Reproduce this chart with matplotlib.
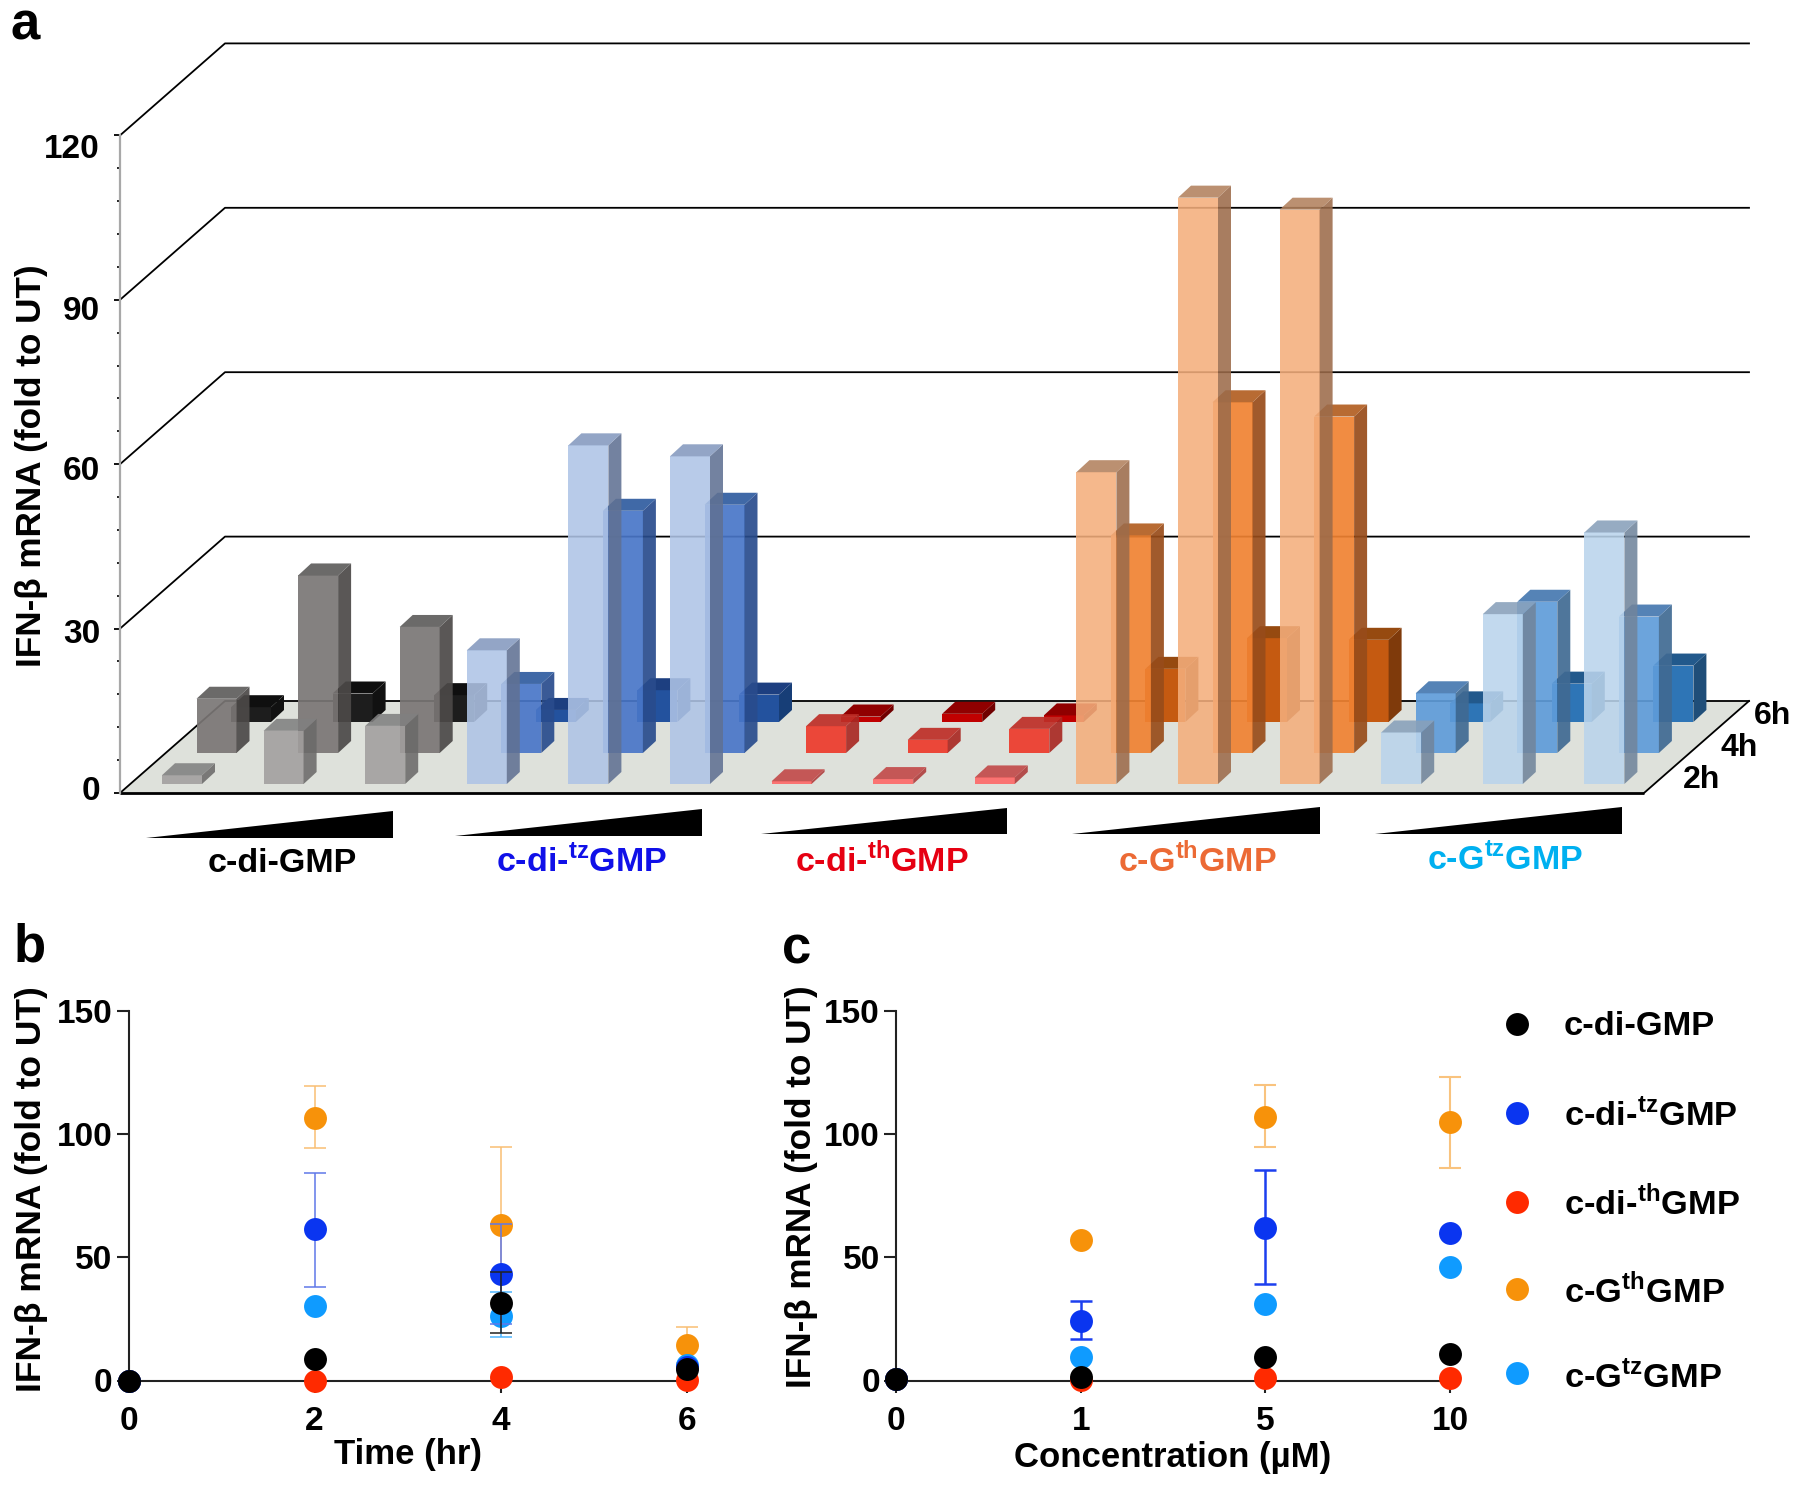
import matplotlib
matplotlib.use("Agg")
import matplotlib.pyplot as plt
import numpy as np
from matplotlib.colors import to_rgb
from matplotlib.lines import Line2D
from matplotlib.patches import Polygon
from matplotlib.ticker import FixedLocator
from matplotlib.transforms import Affine2D

plt.rcParams['font.family'] = ['Liberation Sans', 'DejaVu Sans']
plt.rcParams['font.weight'] = 'bold'
plt.rcParams['mathtext.fontset'] = 'custom'
plt.rcParams['mathtext.rm'] = 'Liberation Sans:bold'
plt.rcParams['mathtext.bf'] = 'Liberation Sans:bold'

# panel a, one value per bar: 5 compounds x 3 doses
hours = ["2h", "4h", "6h"]
bars_2h = [1.6, 9.7, 10.6, 24.4, 61.8, 59.8, 0.5, 0.9, 1.2, 56.9, 107, 104.8, 9.4, 31, 45.9]
bars_4h = [9.9, 32.4, 23, 12.6, 44.2, 45.3, 4.9, 2.4, 4.4, 39.7, 64, 61.4, 10.9, 27.6, 24.9]
bars_6h = [2.7, 5.2, 4.9, 2.2, 5.8, 5, 1, 1.5, 1.2, 9.7, 15.3, 15, 3.4, 7, 10.3]

names = ["c-di-GMP", "c-di-$^{\\mathbf{tz}}$GMP", "c-di-$^{\\mathbf{th}}$GMP",
         "c-G$^{\\mathbf{th}}$GMP", "c-G$^{\\mathbf{tz}}$GMP"]
label_colors = ["#000000", "#1010E8", "#E60012", "#EC6A35", "#00B0F0"]

# panel b, time course
time_x = [0, 2, 4, 6]
b_black = [0, 8.8, 31.5, 4.5]
b_black_lo = [np.nan, np.nan, 19.4, np.nan]
b_black_hi = [np.nan, np.nan, 44.2, np.nan]
b_blue = [0, 61.3, 43.2, 5.5]
b_blue_lo = [np.nan, 38.1, 22.9, np.nan]
b_blue_hi = [np.nan, 84.4, 63.5, np.nan]
b_red = [0, 0, 1.5, 0.4]
b_orange = [0, 106.7, 63.2, 14.3]
b_orange_lo = [np.nan, 94.2, 31.5, 7]
b_orange_hi = [np.nan, 119.4, 94.9, 21.6]
b_light = [0, 30.2, 26.3, 6.3]
b_light_lo = [np.nan, np.nan, 17.5, np.nan]
b_light_hi = [np.nan, np.nan, 35.8, np.nan]

# panel c, dose response
conc_labels = ["0", "1", "5", "10"]
c_black = [0.5, 1.5, 9.7, 10.6]
c_blue = [0.5, 24.3, 62, 59.8]
c_blue_lo = [np.nan, 16.7, 39, np.nan]
c_blue_hi = [np.nan, 32.2, 85.3, np.nan]
c_red = [0.5, 0.4, 0.9, 1.2]
c_orange = [0.5, 56.9, 107, 104.8]
c_orange_lo = [np.nan, np.nan, 94.6, 86.4]
c_orange_hi = [np.nan, np.nan, 120, 123.4]
c_light = [0.5, 9.5, 31, 45.9]

BLACK = "#000000"
BLUE = "#0A35F0"
RED = "#FF2A00"
ORANGE = "#F7920A"
LIGHT = "#0F9BFF"

fig = plt.figure(figsize=(18, 14.85), dpi=100)
W, H = 1800, 1485
px = Affine2D().scale(1 / W, -1 / H).translate(0, 1) + fig.transFigure

# ---- panel a: fake 3D, x in pixels, y in fold change
zero_y = 793
ppu = 5.48
ax = fig.add_axes([0, 0, 1, 1])
ax.patch.set_alpha(0)
ax.set_xlim(0, W)
ax.set_ylim(-(H - zero_y) / ppu, zero_y / ppu)
for s in ["top", "right", "bottom"]:
    ax.spines[s].set_visible(False)
ax.xaxis.set_visible(False)
ax.spines["left"].set_position(("data", 120))
ax.spines["left"].set_bounds(0, 120)
ax.spines["left"].set_color("#a8a8a8")
ax.spines["left"].set_linewidth(1.6)
ax.yaxis.set_major_locator(FixedLocator([0, 30, 60, 90, 120]))
ax.yaxis.set_minor_locator(FixedLocator(np.arange(0, 121, 6)))
ax.tick_params(axis="y", which="major", length=4, width=1.4, color="#111111", labelleft=False)
ax.tick_params(axis="y", which="minor", length=2, width=1.4, color="#222222")

wall_dx, wall_dy = 105, 92 / ppu
right_end = 1749
ax.add_patch(Polygon([(120, 0), (120 + wall_dx, wall_dy), (right_end, wall_dy), (right_end - wall_dx, 0)],
                     closed=True, fc="#DEE1DB", ec="none", zorder=1))
ax.plot([120, right_end - wall_dx], [0, 0], color="black", lw=2, zorder=2, solid_capstyle="butt")
for v in [0, 30, 60, 90, 120]:
    ax.plot([120, 120 + wall_dx, right_end], [v, v + wall_dy, v + wall_dy],
            color="black", lw=1.3, zorder=2)
ax.plot([right_end - wall_dx, right_end], [0, wall_dy], color="black", lw=1.3, zorder=2)

bar_w = 40
depth_dx, depth_dy = 13, 12 / ppu
bar_step = 101.6

# front, side, top colours per compound per row
palette = {
    0: [("#ACAAAA", "#7D7C7B", "#8F8F8F"), ("#858180", "#5A5857", "#6B6A69"), ("#1D1D1D", "#111111", "#0F0F0F")],
    1: [("#B9CBE9", "#7382A0", "#93A5C6"), ("#5881CC", "#3A5A96", "#4169A8"), ("#23529E", "#173E77", "#1D3F80")],
    2: [("#FF7777", "#B85050", "#C85A5A"), ("#EE4A3C", "#B03A35", "#C33F38"), ("#C00000", "#700000", "#900000")],
    3: [("#F5B88C", "#A87D60", "#BB9070"), ("#F18C42", "#A05A2C", "#B86B33"), ("#C55A11", "#7F3A0B", "#964A10")],
    4: [("#C2D9EE", "#8294A8", "#96ABC2"), ("#6CA4DC", "#4F769C", "#5583B6"), ("#2E75B6", "#1F4E79", "#22598C")],
}
rows = [bars_2h, bars_4h, bars_6h]
row_x = [162, 196.5, 231]
row_base = [9 / ppu, 40 / ppu, 71 / ppu]
row_alpha = [0.88, 0.92, 1.0]


def under(color, a):
    # colour to paint with alpha a so it looks like color on white
    return tuple(np.clip((np.array(to_rgb(color)) - (1 - a)) / a, 0, 1))


# back row first so the nearer translucent bars sit on top
for r in [2, 1, 0]:
    z = 5 + (2 - r)
    for i, v in enumerate(rows[r]):
        a = row_alpha[r]
        front, side, top = [under(c, a) for c in palette[i // 3][r]]
        x0 = row_x[r] + i * bar_step
        x1 = x0 + bar_w
        y0 = row_base[r]
        y1 = y0 + v
        ax.fill([x0, x1, x1, x0], [y0, y0, y1, y1], color=front, alpha=a, lw=0, zorder=z)
        ax.fill([x1, x1 + depth_dx, x1 + depth_dx, x1], [y0, y0 + depth_dy, y1 + depth_dy, y1],
                color=side, alpha=a, lw=0, zorder=z)
        ax.fill([x0, x1, x1 + depth_dx, x0 + depth_dx], [y1, y1, y1 + depth_dy, y1 + depth_dy],
                color=top, alpha=a, lw=0, zorder=z)

tick_text_y = [800, 643, 480, 320.5, 157.5]
for lab, y in zip(["0", "30", "60", "90", "120"], tick_text_y):
    fig.text(100, y, lab, transform=px, ha="right", va="baseline", fontsize=24)
fig.text(32, 466, "IFN-β mRNA (fold to UT)", transform=px, rotation=90, ha="center", va="center", fontsize=25.3)

# dose wedges under each group
wedge_x = [(146, 393), (455, 701.5), (760.6, 1007), (1072, 1319.6), (1375, 1622)]
wedge_y = [(837.7, 811), (835.7, 809), (834, 807.7), (834, 807), (834, 807)]
for (xa, xb), (yb, yt) in zip(wedge_x, wedge_y):
    fig.add_artist(Polygon([(xa, yb), (xb, yb), (xb, yt)], closed=True, fc="black", ec="none", transform=px))

label_x = [282, 582, 882, 1197, 1505]
label_y = [871.7, 871.7, 871.7, 871.7, 869.3]
for n, c, x, y in zip(names, label_colors, label_x, label_y):
    fig.text(x, y, n, transform=px, color=c, ha="center", va="baseline", fontsize=24.5)

for lab, x, y in zip(hours, [1702, 1739, 1773], [788, 756, 724]):
    fig.text(x, y, lab, transform=px, ha="center", va="baseline", fontsize=23)

for lab, x, y in zip(["a", "b", "c"], [11, 14, 782], [40, 961, 963]):
    fig.text(x, y, lab, transform=px, ha="left", va="baseline", fontsize=38)


def dots(axis, x, y, color, lo=None, hi=None, ecolor=None, elw=1.1):
    x = np.array(x, dtype=float)
    y = np.array(y, dtype=float)
    if lo is not None:
        err = [y - np.array(lo), np.array(hi) - y]
        axis.errorbar(x, y, yerr=err, fmt="none", ecolor=ecolor, elinewidth=elw,
                      capsize=8, capthick=elw, clip_on=False, zorder=3)
    axis.plot(x, y, "o", color=color, ms=16.5, mew=0, clip_on=False, zorder=3)


def make_axes(left, right):
    a = fig.add_axes([left / W, 1 - 1380.5 / H, (right - left) / W, (1380.5 - 1011) / H])
    a.patch.set_alpha(0)
    a.spines["top"].set_visible(False)
    a.spines["right"].set_visible(False)
    a.spines["left"].set_linewidth(1.5)
    a.spines["bottom"].set_linewidth(1.5)
    a.spines["left"].set_color("#222222")
    a.spines["bottom"].set_color("#222222")
    a.set_ylim(0, 150)
    a.set_yticks([0, 50, 100, 150])
    a.tick_params(axis="both", length=8.5, width=1.5, color="#222222", labelsize=24)
    a.tick_params(axis="y", pad=3)
    a.tick_params(axis="x", pad=9.5)
    return a


# ---- panel b
ax_b = make_axes(128.5, 686.6)
ax_b.set_xlim(0, 6)
ax_b.set_xticks(time_x)
dots(ax_b, time_x, b_red, RED)
dots(ax_b, time_x, b_orange, ORANGE, b_orange_lo, b_orange_hi, "#F9BE73")
dots(ax_b, time_x, b_light, LIGHT, b_light_lo, b_light_hi, "#4DB5FF")
dots(ax_b, time_x, b_blue, BLUE, b_blue_lo, b_blue_hi, "#5F78E8")
dots(ax_b, time_x, b_black, BLACK, b_black_lo, b_black_hi, "#222222")
fig.text(32, 1189, "IFN-β mRNA (fold to UT)", transform=px, rotation=90, ha="center", va="center", fontsize=25.5)
fig.text(408, 1464, "Time (hr)", transform=px, ha="center", va="baseline", fontsize=25)

# ---- panel c, doses evenly spaced
conc_x = np.arange(len(conc_labels))
ax_c = make_axes(896, 1450)
ax_c.set_xlim(0, 3)
ax_c.set_xticks(conc_x)
ax_c.set_xticklabels(conc_labels)
dots(ax_c, conc_x, c_red, RED)
dots(ax_c, conc_x, c_orange, ORANGE, c_orange_lo, c_orange_hi, "#F9C37E", 1.5)
dots(ax_c, conc_x, c_light, LIGHT)
dots(ax_c, conc_x, c_blue, BLUE, c_blue_lo, c_blue_hi, "#1C3FEF", 1.8)
dots(ax_c, conc_x, c_black, BLACK)
fig.text(801, 1187, "IFN-β mRNA (fold to UT)", transform=px, rotation=90, ha="center", va="center", fontsize=25.3)
fig.text(1173, 1467.5, "Concentration (µM)", transform=px, ha="center", va="baseline", fontsize=25)

# legend
legend_colors = [BLACK, BLUE, RED, ORANGE, LIGHT]
legend_y = [1024, 1113, 1202, 1289, 1373]
legend_base = [1034.6, 1125.4, 1214.8, 1302.7, 1387.4]
for n, c, y, yb in zip(names, legend_colors, legend_y, legend_base):
    fig.add_artist(Line2D([1517], [y], marker="o", color=c, ms=16.5, mew=0, ls="none", transform=px))
    fig.text(1564, yb, n, transform=px, ha="left", va="baseline", fontsize=24.8)

fig.savefig("out.png", dpi=100)
